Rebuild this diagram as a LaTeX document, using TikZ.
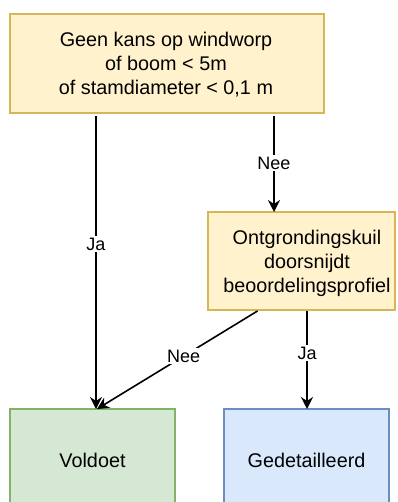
\documentclass[tikz,border=0pt]{standalone}
\usepackage{fontspec}
\setmainfont{Liberation Sans}
\usetikzlibrary{arrows.meta,calc}
\definecolor{yfill}{HTML}{FFF2CC}
\definecolor{ystroke}{HTML}{D6B656}
\definecolor{gfill}{HTML}{D5E8D4}
\definecolor{gstroke}{HTML}{82B366}
\definecolor{bfill}{HTML}{DAE8FC}
\definecolor{bstroke}{HTML}{6C8EBF}
\begin{document}
\begin{tikzpicture}[x=1pt,y=-1pt,
  box/.style={rectangle, line width=1.6pt, inner sep=0pt, outer sep=0pt},
  ybox/.style={box, fill=yfill, draw=ystroke},
  gbox/.style={box, fill=gfill, draw=gstroke},
  bbox/.style={box, fill=bfill, draw=bstroke},
  txt/.style={align=center, font=\fontsize{19.8}{24}\selectfont, inner sep=0pt},
  lbl/.style={fill=white, font=\fontsize{18}{21}\selectfont, inner sep=1.5pt},
  arr/.style={line width=1.6pt, -{Stealth[length=12pt,width=12pt,inset=4pt]}}]
\clip (0,0) rectangle (397,502);
\fill[white] (0,0) rectangle (397,502);
% boxes
\node[ybox, minimum width=314pt, minimum height=99pt] (top) at (167,63.5) {};
\node[txt] (toptxt) at (166,65) {Geen kans op windworp\\of boom < 5m\\of stamdiameter < 0,1 m};
\node[ybox, minimum width=187pt, minimum height=98pt] (mid) at (301.5,261) {};
\node[txt] (midtxt) at (307,263) {Ontgrondingskuil\\doorsnijdt\\beoordelingsprofiel};
\node[gbox, minimum width=165pt, minimum height=104pt] (vold) at (92.5,461) {};
\node[txt] (voldtxt) at (92.5,460) {Voldoet};
\node[bbox, minimum width=165pt, minimum height=104pt] (ged) at (306.5,461) {};
\node[txt] (gedtxt) at (306.5,460) {Gedetailleerd};
% connectors
\draw[arr] ($(top.south west)+(86,3)$) -- node[lbl, pos=0.437] (lja1) {Ja} ($(vold.north west)+(86,0)$);
\draw[arr] ($(top.south west)+(264,3)$) -- node[lbl, pos=0.49] (lnee1) {Nee} ($(mid.north west)+(66,0)$);
\draw[arr] ($(mid.south west)+(49.5,1)$) -- node[lbl, pos=0.46] (lnee2) {Nee} ($(vold.north west)+(87,0)$);
\draw[arr] ($(mid.south west)+(99,1)$) -- node[lbl, pos=0.43] (lja2) {Ja} ($(ged.north west)+(83,0)$);
\end{tikzpicture}
\end{document}
